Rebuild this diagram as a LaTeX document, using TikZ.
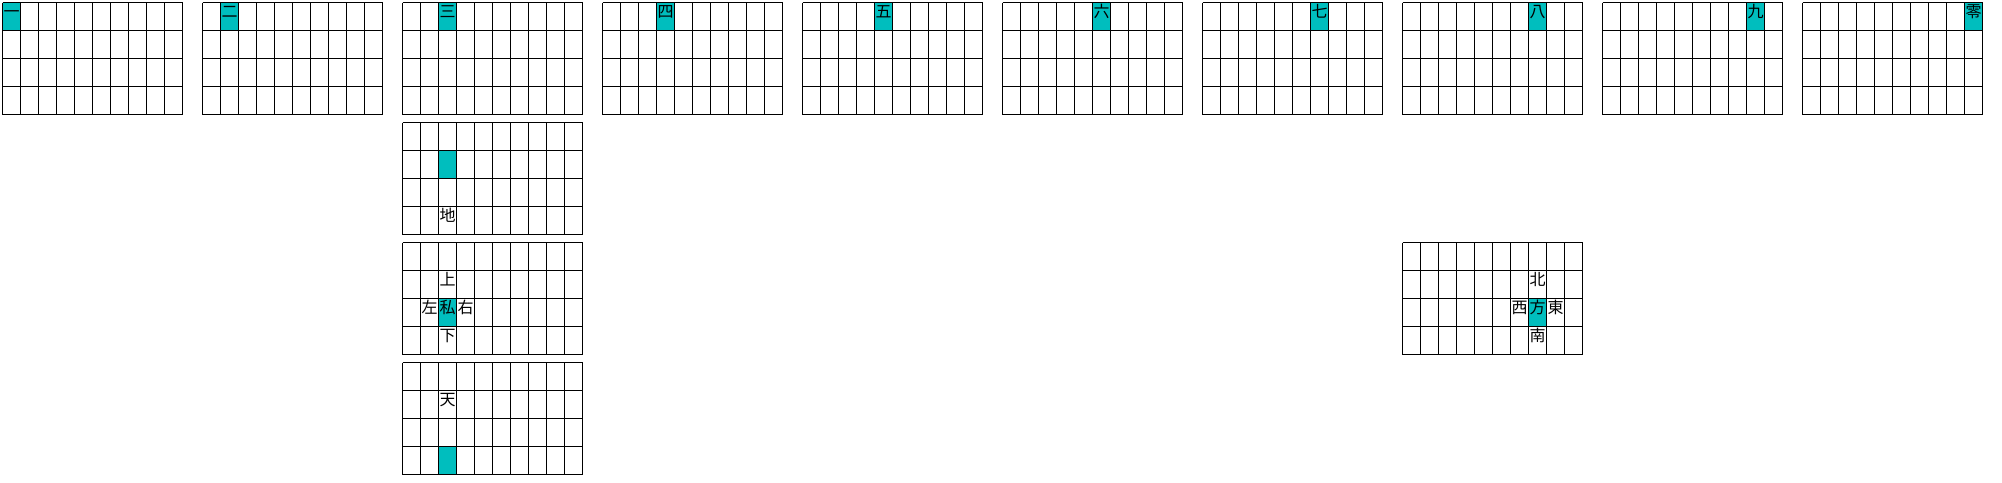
\documentclass[tikz,border=0pt]{standalone}
\usepackage{fontspec}
\newfontfamily\jpfont{Noto Sans CJK JP}
\usetikzlibrary{positioning}
\definecolor{cellteal}{RGB}{0,190,190}

\tikzset{
  gridline/.style={line width=0.9pt,black},
  markcell/.style={fill=cellteal},
  kanji/.style={font=\jpfont\fontsize{16}{16}\selectfont,inner sep=0pt,anchor=base}
}

% 10 x 4 sheet, top-left corner at (#1,#2)
\newcommand{\sheet}[2]{%
  \foreach \i in {0,...,10} \draw[gridline] (#1+18*\i,#2) -- (#1+18*\i,#2+112);
  \foreach \j in {0,...,4} \draw[gridline] (#1,#2+28*\j) -- (#1+180,#2+28*\j);}
% fill cell (#3,#4) of the sheet at (#1,#2)
\newcommand{\markat}[4]{\fill[markcell] (#1+18*#3,#2+28*#4) rectangle ++(18,28);}

\begin{document}
\begin{tikzpicture}[x=1pt,y=-1pt]
\useasboundingbox (0,0) rectangle (2002,482);

% top row: one sheet per digit
\foreach \lab [count=\k from 0] in {一,二,三,四,五,六,七,八,九,零} {
  \markat{2.5+200*\k}{2.5}{\k}{0}
  \sheet{2.5+200*\k}{2.5}
  \node[kanji] (d\k) at (2.5+200*\k+18*\k+9,2.5+15) {\lab};
}

% ground
\markat{402.5}{122.5}{2}{1}
\sheet{402.5}{122.5}
\node[kanji] (chi) at (402.5+45,122.5+84+15) {地};

% me and its neighbours
\markat{402.5}{242.5}{2}{2}
\sheet{402.5}{242.5}
\node[kanji] (watashi) at (402.5+45,242.5+56+15) {私};
\node[kanji] (ue) at (402.5+45,242.5+28+15) {上};
\node[kanji] (shita) at (402.5+45,242.5+84+15) {下};
\node[kanji] (hidari) at (402.5+27,242.5+56+15) {左};
\node[kanji] (migi) at (402.5+63,242.5+56+15) {右};

% sky
\markat{402.5}{362.5}{2}{3}
\sheet{402.5}{362.5}
\node[kanji] (ten) at (402.5+45,362.5+28+15) {天};

% compass
\markat{1402.5}{242.5}{7}{2}
\sheet{1402.5}{242.5}
\node[kanji] (hou) at (1402.5+135,242.5+56+15) {方};
\node[kanji] (kita) at (1402.5+135,242.5+28+15) {北};
\node[kanji] (minami) at (1402.5+135,242.5+84+15) {南};
\node[kanji] (nishi) at (1402.5+117,242.5+56+15) {西};
\node[kanji] (higashi) at (1402.5+153,242.5+56+15) {東};
\end{tikzpicture}
\end{document}
